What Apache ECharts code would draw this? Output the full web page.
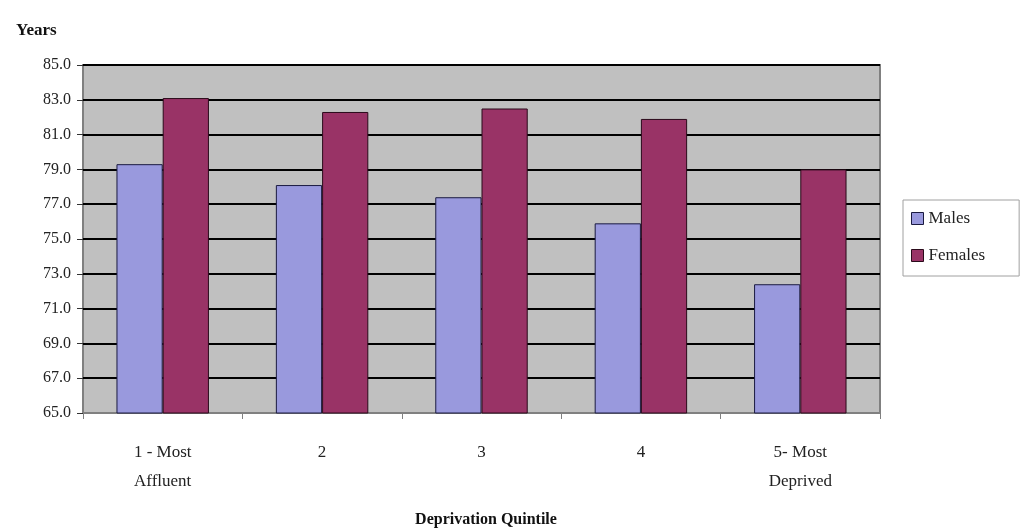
<!DOCTYPE html>
<html>
<head>
<meta charset="utf-8">
<script src="https://cdn.jsdelivr.net/npm/echarts@6/dist/echarts.min.js"></script>
<style>
  html, body { margin: 0; padding: 0; background: #ffffff; }
  #chart { width: 1023px; height: 528px; }
</style>
</head>
<body>
<div id="chart"></div>
<script>
// Life expectancy by deprivation quintile
const quintiles = ['1 - Most\nAffluent', '2', '3', '4', '5- Most\nDeprived'];
const males = [79.3, 78.1, 77.4, 75.9, 72.4];
const females = [83.1, 82.3, 82.5, 81.9, 79.0];

const serif = '"Liberation Serif", "DejaVu Serif", serif';
const chart = echarts.init(document.getElementById('chart'));

chart.setOption({
  animation: false,
  backgroundColor: '#ffffff',
  grid: {
    left: 83, right: 143, top: 65, bottom: 115,
    show: true,
    backgroundColor: '#c0c0c0',
    borderColor: '#808080',
    borderWidth: 2
  },
  legend: {
    orient: 'vertical',
    left: 903, top: 200,
    padding: [10, 34, 12, 8],
    itemGap: 20,
    itemWidth: 12, itemHeight: 12,
    borderColor: '#a0a0a0', borderWidth: 1,
    textStyle: { fontFamily: serif, fontSize: 17, color: '#222' },
    data: [
      { name: 'Males', icon: 'rect', itemStyle: { borderColor: '#1a1a40', borderWidth: 1 } },
      { name: 'Females', icon: 'rect', itemStyle: { borderColor: '#2a0a1a', borderWidth: 1 } }
    ]
  },
  title: [
    { text: 'Years', left: 11, top: 17,
      textStyle: { fontFamily: serif, fontSize: 17, fontWeight: 'bold', color: '#111' } },
    { text: 'Deprivation Quintile', left: 481, top: 507, textAlign: 'center',
      textStyle: { fontFamily: serif, fontSize: 16, fontWeight: 'bold', color: '#111' } }
  ],
  xAxis: {
    type: 'category',
    data: quintiles,
    axisLine: { show: true, lineStyle: { color: '#808080', width: 2 } },
    axisTick: { show: true, alignWithLabel: false, length: 6, lineStyle: { color: '#808080', width: 1 } },
    axisLabel: {
      fontFamily: serif, fontSize: 17, color: '#222',
      margin: 25, lineHeight: 29, align: 'center'
    },
    splitLine: { show: false }
  },
  yAxis: {
    type: 'value',
    min: 65, max: 85, interval: 2,
    axisLine: { show: false },
    axisTick: { show: true, length: 6, lineStyle: { color: '#333', width: 1 } },
    axisLabel: {
      fontFamily: serif, fontSize: 16, color: '#222', margin: 12,
      formatter: v => v.toFixed(1)
    },
    splitLine: { show: true, lineStyle: { color: '#000000', width: 2 } }
  },
  series: [
    {
      name: 'Males', type: 'bar', data: males,
      barGap: '0%', barCategoryGap: '42%',
      itemStyle: { color: '#9999dd', borderColor: '#1a1a40', borderWidth: 1 }
    },
    {
      name: 'Females', type: 'bar', data: females,
      itemStyle: { color: '#993366', borderColor: '#2a0a1a', borderWidth: 1 }
    }
  ]
});
</script>
</body>
</html>
